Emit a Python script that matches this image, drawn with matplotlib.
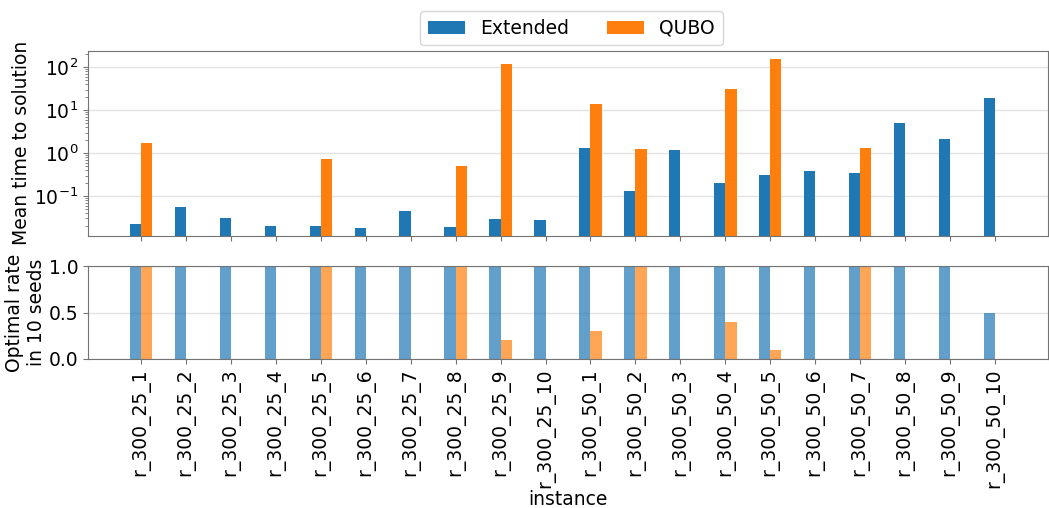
import numpy as np
import matplotlib
matplotlib.use("Agg")
import matplotlib.pyplot as plt

# Instances
instances = [f"r_300_25_{i}" for i in range(1, 11)] + [f"r_300_50_{i}" for i in range(1, 11)]

# Mean time to solution (NaN where the solver never found the optimum)
time_extended = [0.022, 0.057, 0.030, 0.020, 0.020, 0.018, 0.044, 0.019, 0.029, 0.027,
                 1.29, 0.134, 1.17, 0.205, 0.31, 0.39, 0.34, 5.1, 2.13, 19.0]
time_qubo = [1.69, np.nan, np.nan, np.nan, 0.72, np.nan, np.nan, 0.50, 120.0, np.nan,
             13.8, 1.24, np.nan, 31.4, 160.0, np.nan, 1.29, np.nan, np.nan, np.nan]

# Fraction of the 10 seeds that reached the optimum
rate_extended = [1.0, 1.0, 1.0, 1.0, 1.0, 1.0, 1.0, 1.0, 1.0, 1.0,
                 1.0, 1.0, 1.0, 1.0, 1.0, 1.0, 1.0, 1.0, 1.0, 0.5]
rate_qubo = [1.0, 0.0, 0.0, 0.0, 1.0, 0.0, 0.0, 1.0, 0.2, 0.0,
             0.3, 1.0, 0.0, 0.4, 0.1, 0.0, 1.0, 0.0, 0.0, 0.0]

series_names = ["Extended", "QUBO"]
colors = ["#1f77b4", "#ff7f0e"]

plt.rcParams["font.family"] = ["DejaVu Sans"]
FS = 13.5
W, H = 1049, 508
fig = plt.figure(figsize=(W / 100, H / 100), dpi=100)

ax_top = fig.add_axes([88 / W, (H - 235.7) / H, (1048 - 88) / W, (235.7 - 50.7) / H])
ax_bot = fig.add_axes([88 / W, (H - 359) / H, (1048 - 88) / W, 93 / H])

x = np.arange(len(instances))
bw = 0.25
spine_col = "0.45"
grid_col = "#e3e3e3"

bars = []
bars.append(ax_top.bar(x - bw / 2, time_extended, bw, color=colors[0], label=series_names[0], zorder=2))
bars.append(ax_top.bar(x + bw / 2, time_qubo, bw, color=colors[1], label=series_names[1], zorder=2))
ax_bot.bar(x - bw / 2, rate_extended, bw, color=colors[0], alpha=0.7, zorder=2)
ax_bot.bar(x + bw / 2, rate_qubo, bw, color=colors[1], alpha=0.7, zorder=2)

for ax in (ax_top, ax_bot):
    ax.set_xlim(-1.18, len(instances) - 1 + 1.18)
    ax.set_xticks(x)
    for s in ax.spines.values():
        s.set_color(spine_col)
    ax.tick_params(axis="both", which="both", color=spine_col, labelsize=FS)
    ax.yaxis.grid(True, which="major", color=grid_col, linewidth=1, zorder=0)
    ax.set_axisbelow(True)

ax_top.set_yscale("log")
ax_top.set_ylim(0.0119, 244)
ax_top.set_yticks([0.1, 1, 10, 100])
ax_top.tick_params(axis="x", labelbottom=False)
ax_top.set_ylabel("Mean time to solution", fontsize=FS, labelpad=2)

ax_bot.set_ylim(0, 1.0)
ax_bot.set_yticks([0.0, 0.5, 1.0])
ax_bot.set_xticklabels(instances, rotation=90, fontsize=FS)
ax_bot.set_ylabel("Optimal rate\nin 10 seeds", fontsize=FS, labelpad=2)
ax_bot.set_xlabel("instance", fontsize=FS, labelpad=1)

fig.legend(handles=bars, labels=series_names, loc="upper center",
           bbox_to_anchor=(571.5 / W, 1 - 2 / H), ncol=2, fontsize=FS,
           columnspacing=2.0, handlelength=2.0)

fig.savefig("out.png", dpi=100)
